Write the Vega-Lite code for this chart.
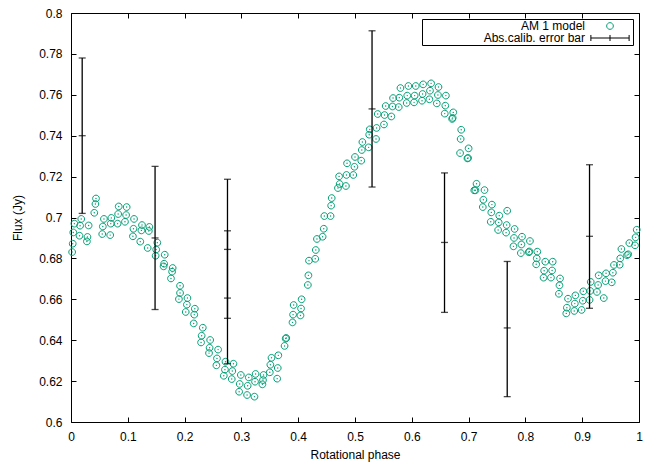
{
"$schema":"https://vega.github.io/schema/vega-lite/v6.json",
"width":568,"height":409,
"autosize":"none",
"padding":{"left":71,"top":13,"right":25,"bottom":43},
"config":{
 "font":"Liberation Sans",
 "view":{"stroke":"black","strokeWidth":1},
 "axis":{"grid":false,"domain":false,"tickColor":"black","tickSize":-5,"tickWidth":1,"labelFontSize":12,"titleFontSize":12,"titleFontWeight":"normal","labelColor":"black","titleColor":"black","labelPadding":14,"labelFlush":false}
},
"datasets":{
"model":[
{"x":0.002,"y":0.6831},{"x":0.003,"y":0.6872},{"x":0.004,"y":0.6927},{"x":0.006,"y":0.6970},
{"x":0.016,"y":0.6960},{"x":0.015,"y":0.6911},{"x":0.018,"y":0.6993},
{"x":0.029,"y":0.6905},{"x":0.028,"y":0.6883},{"x":0.031,"y":0.6961},
{"x":0.041,"y":0.7023},{"x":0.043,"y":0.7066},{"x":0.044,"y":0.7093},
{"x":0.055,"y":0.6919},{"x":0.056,"y":0.6956},{"x":0.058,"y":0.6993},
{"x":0.069,"y":0.6914},{"x":0.070,"y":0.6970},{"x":0.071,"y":0.6998},
{"x":0.082,"y":0.6970},{"x":0.083,"y":0.7017},{"x":0.084,"y":0.7054},
{"x":0.095,"y":0.6979},{"x":0.097,"y":0.7012},{"x":0.098,"y":0.7051},
{"x":0.109,"y":0.6908},{"x":0.110,"y":0.6945},{"x":0.111,"y":0.6993},
{"x":0.122,"y":0.6882},{"x":0.124,"y":0.6937},{"x":0.125,"y":0.6963},
{"x":0.135,"y":0.6851},{"x":0.137,"y":0.6934},{"x":0.138,"y":0.6954},
{"x":0.149,"y":0.6813},{"x":0.150,"y":0.6843},{"x":0.152,"y":0.6877},
{"x":0.163,"y":0.6761},{"x":0.164,"y":0.6774},{"x":0.165,"y":0.6818},
{"x":0.176,"y":0.6702},{"x":0.178,"y":0.6735},{"x":0.179,"y":0.6753},
{"x":0.190,"y":0.6601},{"x":0.192,"y":0.6631},{"x":0.192,"y":0.6666},
{"x":0.205,"y":0.6606},{"x":0.204,"y":0.6574},{"x":0.202,"y":0.6538},
{"x":0.218,"y":0.6554},{"x":0.217,"y":0.6525},{"x":0.216,"y":0.6482},
{"x":0.232,"y":0.6461},{"x":0.230,"y":0.6422},{"x":0.229,"y":0.6389},
{"x":0.245,"y":0.6401},{"x":0.244,"y":0.6363},{"x":0.243,"y":0.6337},
{"x":0.259,"y":0.6354},{"x":0.257,"y":0.6311},{"x":0.256,"y":0.6277},
{"x":0.272,"y":0.6295},{"x":0.271,"y":0.6256},{"x":0.269,"y":0.6226},
{"x":0.286,"y":0.6285},{"x":0.284,"y":0.6249},{"x":0.283,"y":0.6210},
{"x":0.299,"y":0.6230},{"x":0.297,"y":0.6186},{"x":0.296,"y":0.6148},
{"x":0.313,"y":0.6218},{"x":0.311,"y":0.6177},{"x":0.310,"y":0.6132},
{"x":0.325,"y":0.6235},{"x":0.324,"y":0.6197},{"x":0.323,"y":0.6124},
{"x":0.339,"y":0.6230},{"x":0.338,"y":0.6205},{"x":0.337,"y":0.6184},
{"x":0.353,"y":0.6314},{"x":0.351,"y":0.6280},{"x":0.350,"y":0.6243},
{"x":0.365,"y":0.6326},{"x":0.364,"y":0.6264},{"x":0.363,"y":0.6212},
{"x":0.379,"y":0.6411},{"x":0.378,"y":0.6408},{"x":0.376,"y":0.6372},
{"x":0.392,"y":0.6572},{"x":0.391,"y":0.6525},{"x":0.390,"y":0.6487},
{"x":0.406,"y":0.6600},{"x":0.405,"y":0.6555},{"x":0.404,"y":0.6521},
{"x":0.419,"y":0.6789},{"x":0.418,"y":0.6717},{"x":0.417,"y":0.6670},
{"x":0.433,"y":0.6895},{"x":0.431,"y":0.6841},{"x":0.430,"y":0.6798},
{"x":0.446,"y":0.7007},{"x":0.445,"y":0.6945},{"x":0.443,"y":0.6906},
{"x":0.459,"y":0.7095},{"x":0.458,"y":0.7058},{"x":0.457,"y":0.7007},
{"x":0.473,"y":0.7164},{"x":0.472,"y":0.7201},{"x":0.470,"y":0.7144},
{"x":0.486,"y":0.7265},{"x":0.485,"y":0.7208},{"x":0.484,"y":0.7154},
{"x":0.500,"y":0.7296},{"x":0.499,"y":0.7248},{"x":0.497,"y":0.7208},
{"x":0.513,"y":0.7369},{"x":0.512,"y":0.7330},{"x":0.511,"y":0.7278},
{"x":0.526,"y":0.7431},{"x":0.525,"y":0.7405},{"x":0.524,"y":0.7343},
{"x":0.540,"y":0.7506},{"x":0.538,"y":0.7438},{"x":0.537,"y":0.7384},
{"x":0.554,"y":0.7545},{"x":0.552,"y":0.7501},{"x":0.551,"y":0.7455},
{"x":0.567,"y":0.7584},{"x":0.566,"y":0.7543},{"x":0.564,"y":0.7494},
{"x":0.580,"y":0.7633},{"x":0.578,"y":0.7586},{"x":0.577,"y":0.7540},
{"x":0.594,"y":0.7643},{"x":0.592,"y":0.7596},{"x":0.591,"y":0.7560},
{"x":0.607,"y":0.7643},{"x":0.605,"y":0.7596},{"x":0.604,"y":0.7563},
{"x":0.620,"y":0.7651},{"x":0.619,"y":0.7604},{"x":0.618,"y":0.7571},
{"x":0.634,"y":0.7656},{"x":0.632,"y":0.7620},{"x":0.631,"y":0.7578},
{"x":0.647,"y":0.7638},{"x":0.646,"y":0.7599},{"x":0.644,"y":0.7558},
{"x":0.660,"y":0.7596},{"x":0.659,"y":0.7547},{"x":0.658,"y":0.7508},
{"x":0.673,"y":0.7514},{"x":0.672,"y":0.7487},{"x":0.671,"y":0.7482},
{"x":0.687,"y":0.7429},{"x":0.686,"y":0.7384},{"x":0.685,"y":0.7315},
{"x":0.700,"y":0.7338},{"x":0.699,"y":0.7291},{"x":0.698,"y":0.7289},
{"x":0.714,"y":0.7165},{"x":0.712,"y":0.7133},{"x":0.710,"y":0.7133},
{"x":0.728,"y":0.7134},{"x":0.726,"y":0.7087},{"x":0.725,"y":0.7051},
{"x":0.741,"y":0.7063},{"x":0.740,"y":0.7025},{"x":0.739,"y":0.6979},
{"x":0.754,"y":0.7009},{"x":0.753,"y":0.6976},{"x":0.752,"y":0.6939},
{"x":0.768,"y":0.7033},{"x":0.767,"y":0.6963},{"x":0.766,"y":0.6926},
{"x":0.781,"y":0.6944},{"x":0.780,"y":0.6900},{"x":0.779,"y":0.6859},
{"x":0.794,"y":0.6906},{"x":0.793,"y":0.6868},{"x":0.792,"y":0.6826},
{"x":0.808,"y":0.6885},{"x":0.807,"y":0.6834},{"x":0.806,"y":0.6830},
{"x":0.821,"y":0.6833},{"x":0.820,"y":0.6800},{"x":0.819,"y":0.6771},
{"x":0.835,"y":0.6784},{"x":0.833,"y":0.6740},{"x":0.832,"y":0.6706},
{"x":0.848,"y":0.6784},{"x":0.847,"y":0.6741},{"x":0.845,"y":0.6706},
{"x":0.861,"y":0.6702},{"x":0.860,"y":0.6668},{"x":0.859,"y":0.6627},
{"x":0.875,"y":0.6603},{"x":0.873,"y":0.6559},{"x":0.872,"y":0.6531},
{"x":0.888,"y":0.6619},{"x":0.887,"y":0.6579},{"x":0.886,"y":0.6543},
{"x":0.902,"y":0.6639},{"x":0.901,"y":0.6593},{"x":0.899,"y":0.6548},
{"x":0.915,"y":0.6685},{"x":0.914,"y":0.6641},{"x":0.913,"y":0.6597},
{"x":0.929,"y":0.6717},{"x":0.928,"y":0.6670},{"x":0.926,"y":0.6636},
{"x":0.942,"y":0.6727},{"x":0.941,"y":0.6689},{"x":0.938,"y":0.6606},
{"x":0.956,"y":0.6768},{"x":0.954,"y":0.6730},{"x":0.952,"y":0.6683},
{"x":0.969,"y":0.6846},{"x":0.967,"y":0.6800},{"x":0.966,"y":0.6769},
{"x":0.983,"y":0.6875},{"x":0.981,"y":0.6820},{"x":0.979,"y":0.6816},
{"x":0.996,"y":0.6940},{"x":0.994,"y":0.6903},{"x":0.993,"y":0.6864}
],
"bars":[
{"x":0.0197,"y":0.740,"lo":0.702,"hi":0.778},
{"x":0.148,"y":0.690,"lo":0.655,"hi":0.725},
{"x":0.2755,"y":0.6844,"lo":0.6507,"hi":0.7187},
{"x":0.2755,"y":0.6606,"lo":0.6285,"hi":0.6935},
{"x":0.530,"y":0.7531,"lo":0.7149,"hi":0.7913},
{"x":0.6576,"y":0.6878,"lo":0.6536,"hi":0.7218},
{"x":0.768,"y":0.646,"lo":0.6124,"hi":0.6785},
{"x":0.9129,"y":0.6908,"lo":0.6556,"hi":0.7258}
]
},
"layer":[
{
 "data":{"name":"model"},
 "mark":{"type":"point","filled":false,"size":45,"strokeWidth":1,"opacity":1},
 "encoding":{
  "x":{"field":"x","type":"quantitative","scale":{"domain":[0,1],"nice":false,"zero":false},
       "axis":{"title":"Rotational phase","values":[0,0.1,0.2,0.3,0.4,0.5,0.6,0.7,0.8,0.9,1],"format":".1~f","titlePadding":7}},
  "y":{"field":"y","type":"quantitative","scale":{"domain":[0.6,0.8],"nice":false,"zero":false},
       "axis":{"title":"Flux (Jy)","values":[0.6,0.62,0.64,0.66,0.68,0.7,0.72,0.74,0.76,0.78,0.8],"format":".2~f","titlePadding":14}},
  "color":{"datum":"AM 1 model","type":"nominal",
    "scale":{"domain":["AM 1 model","Abs.calib. error bar"],"range":["#009e73","#000000"]},
    "legend":{"title":null,"orient":"top-right","offset":6,"fillColor":"white","strokeColor":"black","padding":1,
      "labelFontSize":12,"labelColor":"black","labelAlign":"right","labelOffset":-31,"symbolOffset":181,"symbolSize":45,"symbolStrokeWidth":1,"rowPadding":0}},
  "shape":{"datum":"AM 1 model","type":"nominal",
    "scale":{"domain":["AM 1 model","Abs.calib. error bar"],"range":["M1,0A1,1,0,1,1,-1,0A1,1,0,1,1,1,0ZM-5.7,0L-5.7,0M5.7,0L5.7,0","M-5.7,0H5.7M-5.7,-0.9V0.9M5.7,-0.9V0.9M0,-0.9V0.9"]},
    "legend":{"title":null,"orient":"top-right","offset":6,"fillColor":"white","strokeColor":"black","padding":1,
      "labelFontSize":12,"labelColor":"black","labelAlign":"right","labelOffset":-31,"symbolOffset":181,"symbolSize":45,"symbolStrokeWidth":1,"rowPadding":0}}
 }
},
{
 "data":{"name":"model"},
 "mark":{"type":"point","filled":true,"size":2,"color":"#009e73","opacity":1},
 "encoding":{
  "x":{"field":"x","type":"quantitative","axis":{"orient":"top","labels":false,"title":null,"values":[0,0.1,0.2,0.3,0.4,0.5,0.6,0.7,0.8,0.9,1]}},
  "y":{"field":"y","type":"quantitative","axis":{"orient":"right","labels":false,"title":null,"values":[0.6,0.62,0.64,0.66,0.68,0.7,0.72,0.74,0.76,0.78,0.8]}}
 }
},
{
 "data":{"name":"bars"},
 "mark":{"type":"rule","color":"black","strokeWidth":1.3},
 "encoding":{
  "x":{"field":"x","type":"quantitative","axis":null},
  "y":{"field":"lo","type":"quantitative","axis":null},
  "y2":{"field":"hi"}
 }
},
{
 "data":{"name":"bars"},
 "mark":{"type":"tick","orient":"horizontal","color":"black","size":7,"thickness":1.3},
 "encoding":{"x":{"field":"x","type":"quantitative","axis":null},"y":{"field":"lo","type":"quantitative","axis":null}}
},
{
 "data":{"name":"bars"},
 "mark":{"type":"tick","orient":"horizontal","color":"black","size":7,"thickness":1.3},
 "encoding":{"x":{"field":"x","type":"quantitative","axis":null},"y":{"field":"hi","type":"quantitative","axis":null}}
},
{
 "data":{"name":"bars"},
 "mark":{"type":"tick","orient":"horizontal","color":"black","size":7,"thickness":1.3},
 "encoding":{"x":{"field":"x","type":"quantitative","axis":null},"y":{"field":"y","type":"quantitative","axis":null}}
}
],
"resolve":{"axis":{"x":"independent","y":"independent"}}
}
